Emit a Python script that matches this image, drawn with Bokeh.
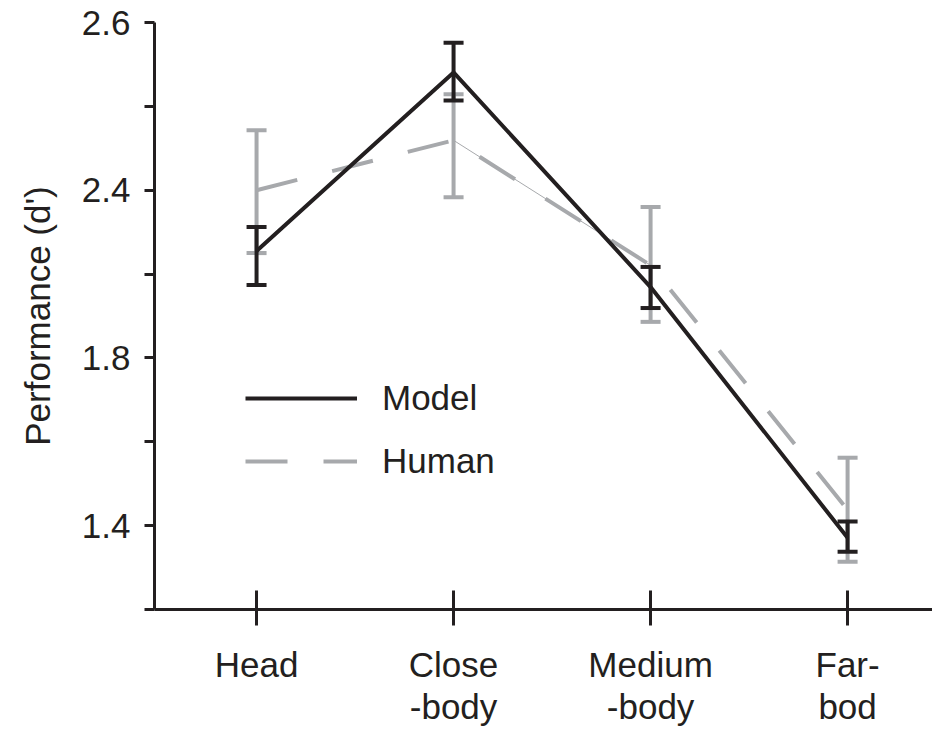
from bokeh.plotting import figure
from bokeh.models import (ColumnDataSource, Range1d, FixedTicker, Whisker, TeeHead,
                          Legend, LegendItem)
from bokeh.embed import file_html
from bokeh.resources import INLINE

# Conditions and d' values
categories = ["Head", "Close\n-body", "Medium\n-body", "Far-\nbod"]
model_mean = [2.055, 2.481, 1.969, 1.371]
model_upper = [2.112, 2.552, 2.017, 1.410]
model_lower = [1.974, 2.414, 1.919, 1.338]
human_mean = [2.200, 2.319, 2.021, 1.438]
human_upper = [2.343, 2.429, 2.160, 1.562]
human_lower = [2.050, 2.183, 1.886, 1.314]

y_ticks = [1.4, 1.8, 2.2, 2.6]
y_tick_labels = ["1.4", "1.8", "2.4", "2.6"]
y_minor_ticks = [1.2, 1.6, 2.0, 2.4]

INK = "#231f20"
GREY = "#a7a9ac"
FONT = "Liberation Sans"

xs = list(range(len(categories)))

p = figure(width=932, height=729, output_backend="svg", toolbar_location=None,
           x_range=Range1d(-0.518, 3.431), y_range=Range1d(1.2, 2.6),
           min_border_left=154, min_border_right=0, min_border_top=22,
           min_border_bottom=110)
p.outline_line_color = None
p.grid.visible = False
p.background_fill_color = "white"
p.border_fill_color = "white"

src_h = ColumnDataSource(dict(x=xs, m=human_mean, up=human_upper, lo=human_lower))
src_m = ColumnDataSource(dict(x=xs, m=model_mean, up=model_upper, lo=model_lower))

# Human: error bars, dashed mean line, thin connector between the middle conditions
wh = Whisker(source=src_h, base="x", upper="up", lower="lo", level="underlay",
             line_color=GREY, line_width=4,
             upper_head=TeeHead(size=20, line_color=GREY, line_width=4),
             lower_head=TeeHead(size=20, line_color=GREY, line_width=4))
p.add_layout(wh)
p.line(xs[1:3], human_mean[1:3], line_color=GREY, line_width=1)
r_h = p.line("x", "m", source=src_h, line_color=GREY, line_width=4,
             line_dash="42 36")

# Model: solid mean line and error bars
r_m = p.line("x", "m", source=src_m, line_color=INK, line_width=4)
wm = Whisker(source=src_m, base="x", upper="up", lower="lo", level="annotation",
             line_color=INK, line_width=4,
             upper_head=TeeHead(size=20, line_color=INK, line_width=4),
             lower_head=TeeHead(size=20, line_color=INK, line_width=4))
p.add_layout(wm)

# Axes
xa = p.xaxis[0]
xa.ticker = FixedTicker(ticks=xs)
xa.major_label_overrides = {i: c for i, c in zip(xs, categories)}
xa.major_tick_in = 19
xa.major_tick_out = 16
xa.major_label_standoff = 19
xa.major_label_text_line_height = 1.1

ya = p.yaxis[0]
ya.ticker = FixedTicker(ticks=y_ticks, minor_ticks=y_minor_ticks)
ya.major_label_overrides = {t: s for t, s in zip(y_ticks, y_tick_labels)}
ya.major_tick_in = 0
ya.major_tick_out = 10
ya.minor_tick_in = 0
ya.minor_tick_out = 10
ya.major_label_standoff = 14
ya.axis_label = "Performance (d')"
ya.axis_label_standoff = 22
ya.axis_label_text_font_style = "normal"

for ax in (xa, ya):
    ax.axis_line_color = INK
    ax.axis_line_width = 3
    ax.major_tick_line_color = INK
    ax.major_tick_line_width = 3
    ax.minor_tick_line_color = INK if ax is ya else None
    ax.minor_tick_line_width = 3
    ax.major_label_text_font = FONT
    ax.major_label_text_font_size = "35px"
    ax.major_label_text_color = INK
    ax.axis_label_text_font = FONT
    ax.axis_label_text_font_size = "35px"
    ax.axis_label_text_color = INK

legend = Legend(items=[LegendItem(label="Model", renderers=[r_m]),
                       LegendItem(label="Human", renderers=[r_h])],
                location=(91, 128), padding=0, margin=0, spacing=23,
                glyph_width=112, glyph_height=40, label_height=40,
                label_standoff=25, border_line_alpha=0,
                background_fill_alpha=0,
                label_text_font=FONT, label_text_font_size="35px",
                label_text_color=INK)
p.add_layout(legend)

open("out.html", "w").write(file_html(p, INLINE))
